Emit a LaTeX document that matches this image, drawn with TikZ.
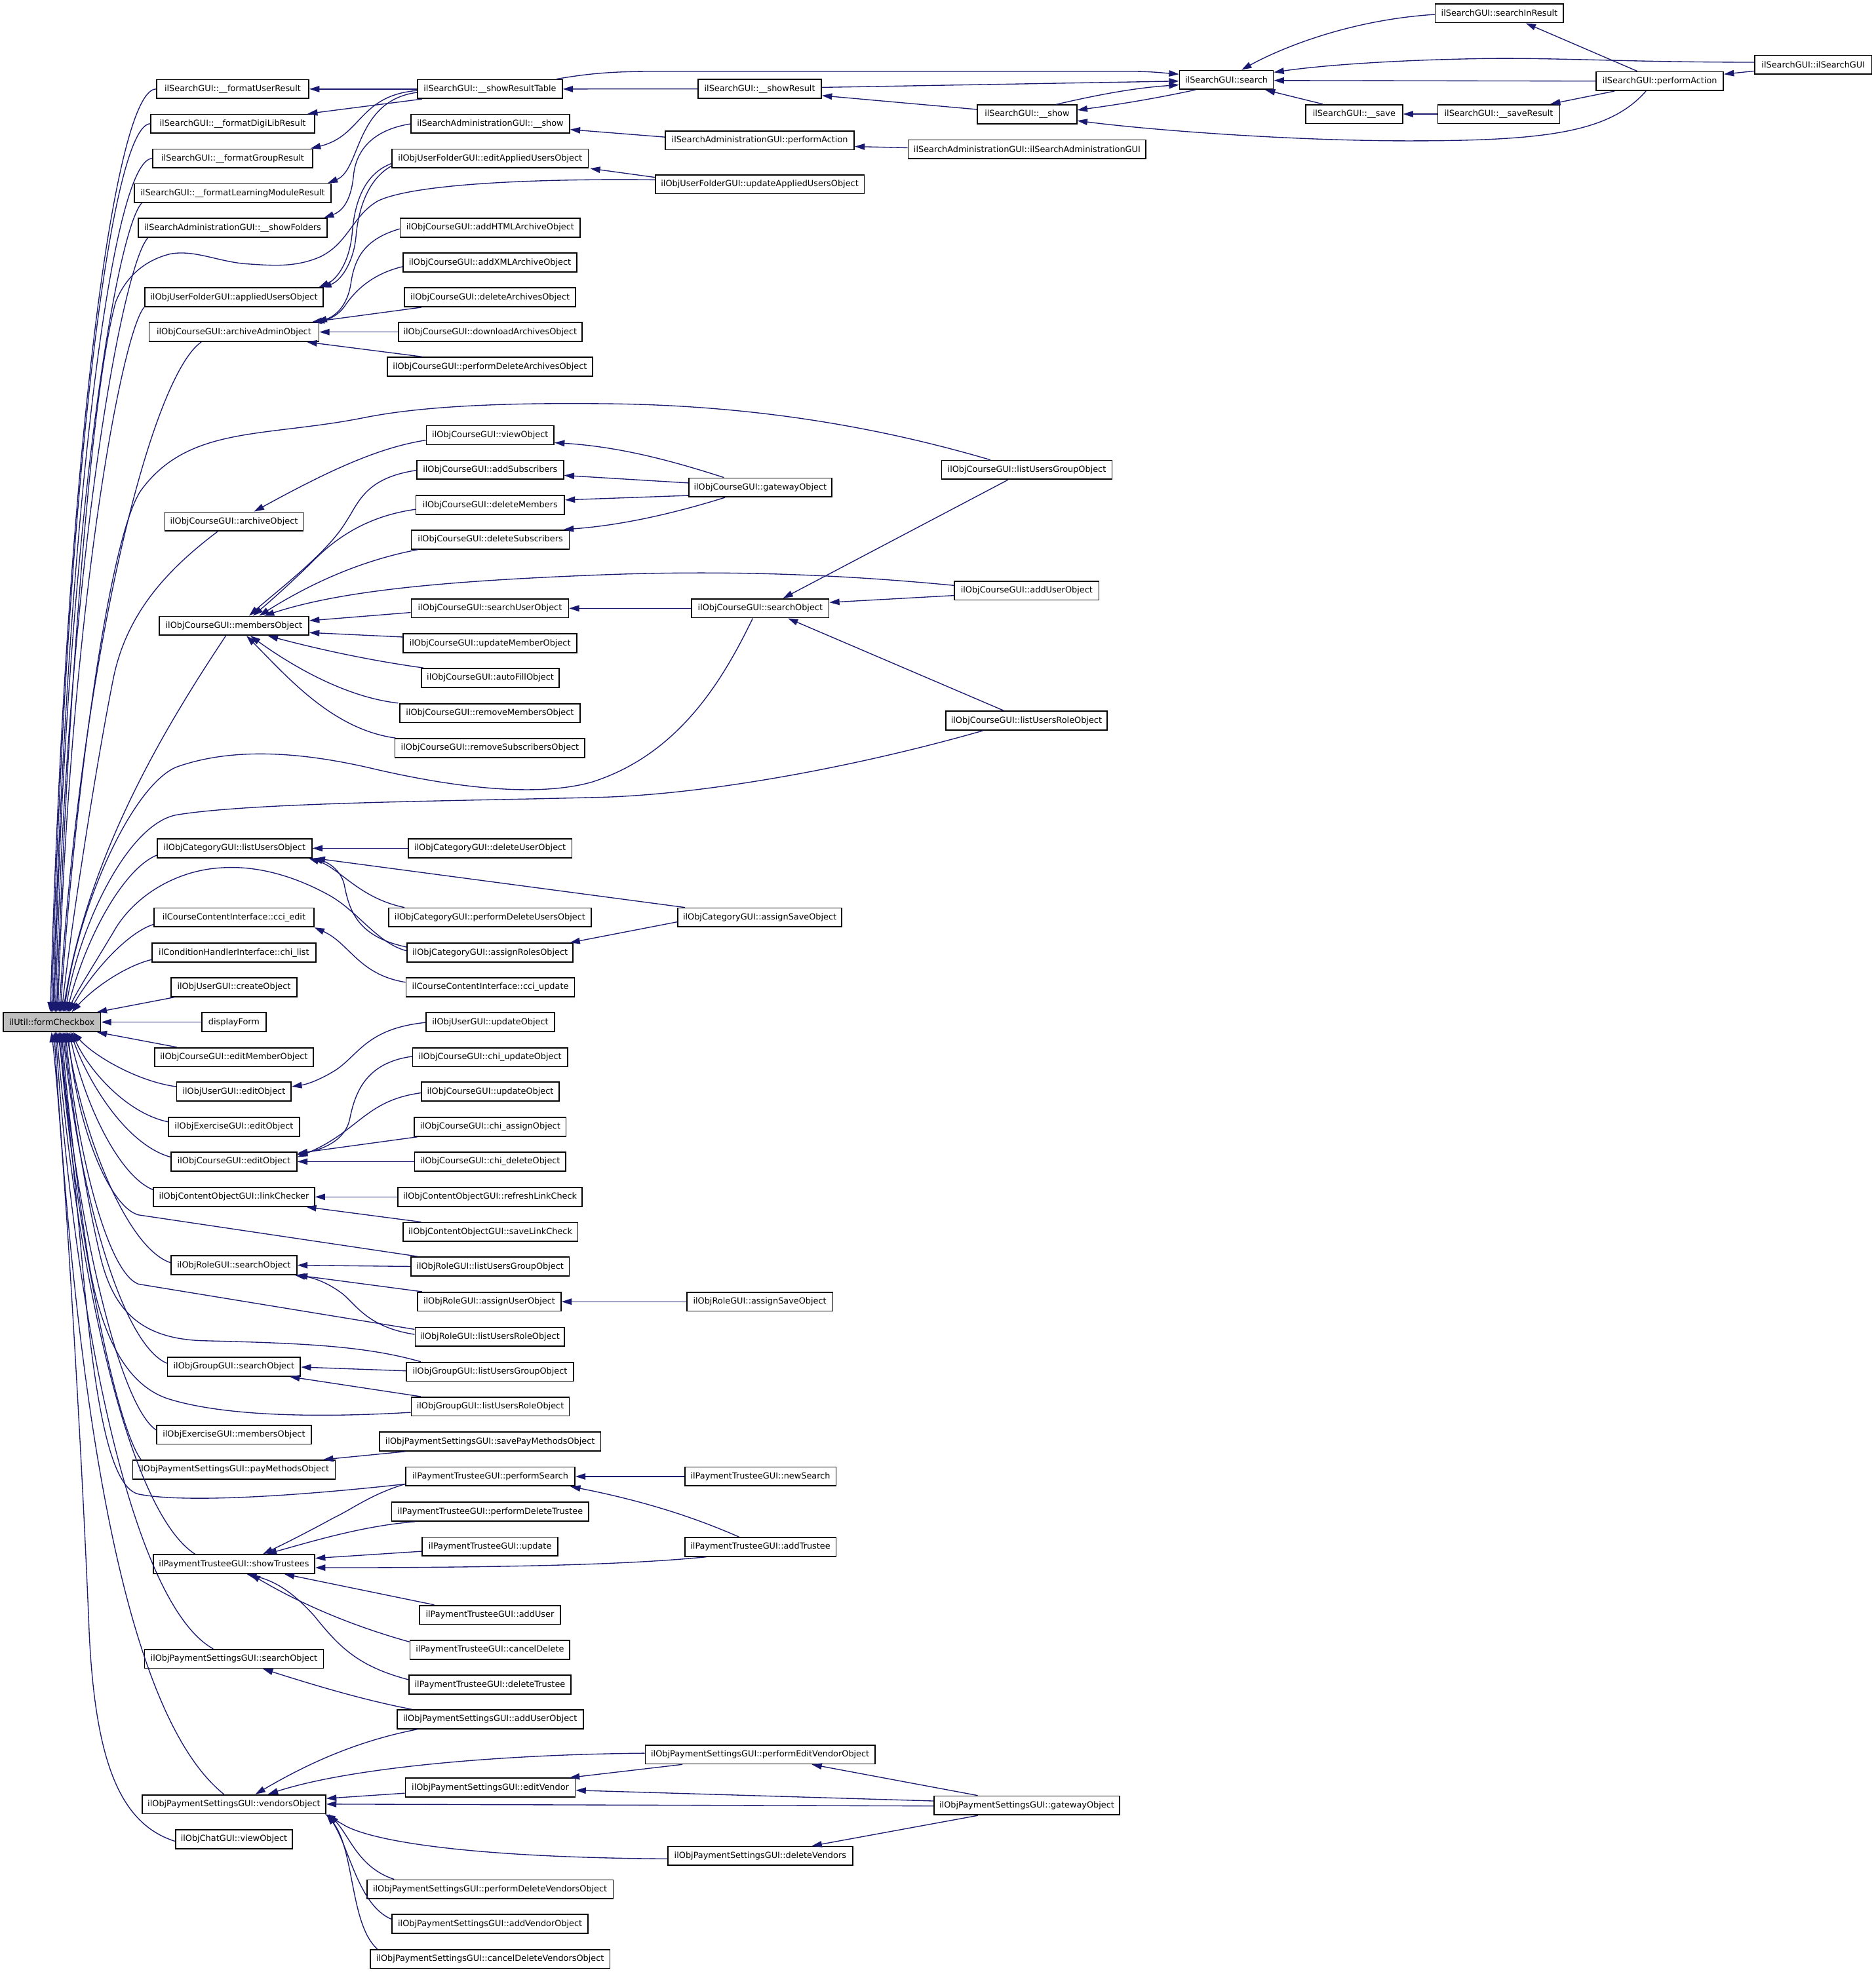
\documentclass[tikz,border=0pt]{standalone}
\usepackage{fontspec}
\setmainfont{DejaVu Sans}
\usetikzlibrary{arrows.meta}
\definecolor{edgec}{RGB}{25,25,112}
\definecolor{rootfill}{RGB}{191,191,191}
\tikzset{
  box/.style={draw=black, line width=0.9pt, fill=white, font=\fontsize{6.7}{8}\selectfont,
    inner xsep=3pt, inner ysep=0pt, minimum height=15pt, anchor=center},
  rootbox/.style={box, fill=rootfill},
  arr/.style={draw=edgec, line width=0.7pt, -{Triangle[length=8pt,width=5pt]}},
}
\newcommand\mynode[6][box]{\node[#1, minimum width=#5pt] (#2) at (#3,#4) {#6};}
\begin{document}
\begin{tikzpicture}[x=1pt,y=-1pt]
\fill[white] (0,0) rectangle (1491,1568);
\useasboundingbox (0,0) rectangle (1491,1568);

% ---------- nodes ----------
\mynode[rootbox]{fc}{41.3}{812.7}{77.4}{ilUtil::formCheckbox}
% level 1
\mynode{fur}{185}{70.8}{121}{ilSearchGUI::\_\_formatUserResult}
\mynode{fdl}{185}{98.4}{130}{ilSearchGUI::\_\_formatDigiLibResult}
\mynode{fgr}{185}{126}{127}{ilSearchGUI::\_\_formatGroupResult}
\mynode{flm}{185}{153.6}{156}{ilSearchGUI::\_\_formatLearningModuleResult}
\mynode{sfo}{185}{181.2}{150}{ilSearchAdministrationGUI::\_\_showFolders}
\mynode{aus}{186}{236.4}{142}{ilObjUserFolderGUI::appliedUsersObject}
\mynode{aao}{186}{264}{135}{ilObjCourseGUI::archiveAdminObject}
\mynode{aro}{186}{414.7}{110}{ilObjCourseGUI::archiveObject}
\mynode{mem}{186}{497.6}{119}{ilObjCourseGUI::membersObject}
\mynode{lus}{186.5}{674.5}{123}{ilObjCategoryGUI::listUsersObject}
\mynode{cce}{186}{729.5}{127}{ilCourseContentInterface::cci\_edit}
\mynode{chl}{186}{757.5}{130}{ilConditionHandlerInterface::chi\_list}
\mynode{uco}{186}{785}{100}{ilObjUserGUI::createObject}
\mynode{dfm}{186}{812.7}{51}{displayForm}
\mynode{emo}{186}{840.6}{126}{ilObjCourseGUI::editMemberObject}
\mynode{ueo}{186}{868}{91}{ilObjUserGUI::editObject}
\mynode{xeo}{186}{896}{104}{ilObjExerciseGUI::editObject}
\mynode{ceo}{186}{923.6}{100}{ilObjCourseGUI::editObject}
\mynode{lch}{186}{951.7}{128}{ilObjContentObjectGUI::linkChecker}
\mynode{rso}{186}{1006}{100}{ilObjRoleGUI::searchObject}
\mynode{gso}{186}{1086.7}{105.6}{ilObjGroupGUI::searchObject}
\mynode{xmo}{186}{1140.7}{123}{ilObjExerciseGUI::membersObject}
\mynode{pmo}{186}{1168.5}{161}{ilObjPaymentSettingsGUI::payMethodsObject}
\mynode{sht}{186}{1243.6}{128.4}{ilPaymentTrusteeGUI::showTrustees}
\mynode{pss}{186}{1319}{142.3}{ilObjPaymentSettingsGUI::searchObject}
\mynode{vob}{186}{1434.6}{146}{ilObjPaymentSettingsGUI::vendorsObject}
\mynode{cvo}{186}{1462.4}{93}{ilObjChatGUI::viewObject}
% level 2
\mynode{srt}{389.5}{70.8}{115}{ilSearchGUI::\_\_showResultTable}
\mynode{sas}{389.8}{98.4}{126}{ilSearchAdministrationGUI::\_\_show}
\mynode{eau}{389.7}{126}{156}{ilObjUserFolderGUI::editAppliedUsersObject}
\mynode{aha}{389.7}{181}{143}{ilObjCourseGUI::addHTMLArchiveObject}
\mynode{axa}{389.5}{208.8}{138}{ilObjCourseGUI::addXMLArchiveObject}
\mynode{dar}{389.6}{236.4}{136}{ilObjCourseGUI::deleteArchivesObject}
\mynode{dla}{389.7}{264}{146}{ilObjCourseGUI::downloadArchivesObject}
\mynode{pda}{389.5}{291.6}{163}{ilObjCourseGUI::performDeleteArchivesObject}
\mynode{cvw}{389.7}{346}{101.4}{ilObjCourseGUI::viewObject}
\mynode{cas}{389.7}{373.6}{116.6}{ilObjCourseGUI::addSubscribers}
\mynode{cdm}{389.7}{401.5}{118}{ilObjCourseGUI::deleteMembers}
\mynode{cds}{389.8}{429}{125.6}{ilObjCourseGUI::deleteSubscribers}
\mynode{csu}{389.5}{483.7}{125}{ilObjCourseGUI::searchUserObject}
\mynode{cum}{389.6}{511.5}{138}{ilObjCourseGUI::updateMemberObject}
\mynode{caf}{389.8}{539}{109.6}{ilObjCourseGUI::autoFillObject}
\mynode{crm}{389.5}{567}{143}{ilObjCourseGUI::removeMembersObject}
\mynode{crs}{389.5}{594.8}{151}{ilObjCourseGUI::removeSubscribersObject}
\mynode{dus}{389.6}{674.5}{130}{ilObjCategoryGUI::deleteUserObject}
\mynode{pdu}{389.5}{729.5}{161}{ilObjCategoryGUI::performDeleteUsersObject}
\mynode{asr}{389.6}{757.5}{132}{ilObjCategoryGUI::assignRolesObject}
\mynode{ccu}{389.8}{785}{134}{ilCourseContentInterface::cci\_update}
\mynode{uuo}{389.8}{812.7}{102}{ilObjUserGUI::updateObject}
\mynode{cuo}{389.6}{840.6}{123}{ilObjCourseGUI::chi\_updateObject}
\mynode{cup}{389.8}{868}{109.6}{ilObjCourseGUI::updateObject}
\mynode{cha}{389.7}{896}{120.6}{ilObjCourseGUI::chi\_assignObject}
\mynode{chd}{389.7}{923.6}{120.3}{ilObjCourseGUI::chi\_deleteObject}
\mynode{rlc}{389.6}{951.7}{146.4}{ilObjContentObjectGUI::refreshLinkCheck}
\mynode{slc}{389.8}{979.6}{139}{ilObjContentObjectGUI::saveLinkCheck}
\mynode{rlg}{389.6}{1007}{126}{ilObjRoleGUI::listUsersGroupObject}
\mynode{rau}{389}{1035}{114}{ilObjRoleGUI::assignUserObject}
\mynode{rlr}{389.4}{1063}{118.7}{ilObjRoleGUI::listUsersRoleObject}
\mynode{glg}{389.5}{1090.7}{133}{ilObjGroupGUI::listUsersGroupObject}
\mynode{glr}{389.8}{1118.4}{125.6}{ilObjGroupGUI::listUsersRoleObject}
\mynode{spm}{389.6}{1146.2}{176}{ilObjPaymentSettingsGUI::savePayMethodsObject}
\mynode{psr}{389.8}{1174}{134.4}{ilPaymentTrusteeGUI::performSearch}
\mynode{pdt}{389.7}{1202}{156.6}{ilPaymentTrusteeGUI::performDeleteTrustee}
\mynode{tup}{389.6}{1229.7}{108}{ilPaymentTrusteeGUI::update}
\mynode{tau}{389.5}{1284}{111.7}{ilPaymentTrusteeGUI::addUser}
\mynode{tcd}{389.5}{1311.8}{127}{ilPaymentTrusteeGUI::cancelDelete}
\mynode{tdt}{389.5}{1339.6}{129}{ilPaymentTrusteeGUI::deleteTrustee}
\mynode{pau}{389.6}{1367}{148}{ilObjPaymentSettingsGUI::addUserObject}
\mynode{pev}{389.8}{1421.4}{135}{ilObjPaymentSettingsGUI::editVendor}
\mynode{pdv}{389.6}{1502.2}{195.7}{ilObjPaymentSettingsGUI::performDeleteVendorsObject}
\mynode{pav}{389.6}{1529.8}{155.8}{ilObjPaymentSettingsGUI::addVendorObject}
\mynode{pcd}{389.6}{1557.6}{190.5}{ilObjPaymentSettingsGUI::cancelDeleteVendorsObject}
% level 3
\mynode{shr}{604}{70.7}{98}{ilSearchGUI::\_\_showResult}
\mynode{sap}{604}{111.6}{150}{ilSearchAdministrationGUI::performAction}
\mynode{uau}{604}{146.5}{166}{ilObjUserFolderGUI::updateAppliedUsersObject}
\mynode{cgw}{604.4}{387.6}{113.8}{ilObjCourseGUI::gatewayObject}
\mynode{cso}{604.4}{483.7}{109}{ilObjCourseGUI::searchObject}
\mynode{asv}{604}{729.5}{130}{ilObjCategoryGUI::assignSaveObject}
\mynode{ras}{604}{1035}{116}{ilObjRoleGUI::assignSaveObject}
\mynode{tns}{604.5}{1174}{120.2}{ilPaymentTrusteeGUI::newSearch}
\mynode{tat}{604.5}{1230}{120.2}{ilPaymentTrusteeGUI::addTrustee}
\mynode{pef}{604.3}{1395}{182.7}{ilObjPaymentSettingsGUI::performEditVendorObject}
\mynode{pdl}{604.4}{1475.7}{146.8}{ilObjPaymentSettingsGUI::deleteVendors}
% level 4
\mynode{shw}{816.5}{91}{79}{ilSearchGUI::\_\_show}
\mynode{sag}{816.5}{118.7}{189}{ilSearchAdministrationGUI::ilSearchAdministrationGUI}
\mynode{clg}{816.3}{373.6}{135.4}{ilObjCourseGUI::listUsersGroupObject}
\mynode{cau}{816.2}{469.6}{114.8}{ilObjCourseGUI::addUserObject}
\mynode{clr}{816}{573}{128}{ilObjCourseGUI::listUsersRoleObject}
\mynode{pgw}{816.3}{1435.6}{147.4}{ilObjPaymentSettingsGUI::gatewayObject}
% levels 5-7
\mynode{sea}{975}{63.5}{74.5}{ilSearchGUI::search}
\mynode{sav}{1076.5}{90.7}{77}{ilSearchGUI::\_\_save}
\mynode{sir}{1192}{10.5}{102}{ilSearchGUI::searchInResult}
\mynode{ssr}{1191.5}{90.7}{97}{ilSearchGUI::\_\_saveResult}
\mynode{spa}{1319.5}{64.5}{101}{ilSearchGUI::performAction}
\mynode{sgi}{1441.5}{51.5}{93}{ilSearchGUI::ilSearchGUI}

% ---------- search cluster ----------
\draw[arr] (shr.west) -- (srt.east);
\draw[arr] ([xshift=-5pt]srt.north east) .. controls (470,58) and (490,56.8) .. (520,56.8) -- (900,56.8) .. controls (915,56.8) and (925,58) .. (sea.west |- 0,59);
\draw[arr] (shr.east |- 0,69.5) -- (sea.west |- 0,64.5);
\draw[arr] ([xshift=23pt]shw.north) .. controls (870,76) and (900,70) .. (sea.west |- 0,67.5);
\draw[arr] ([xshift=13pt]sea.south west) .. controls (920,78) and (890,83) .. (shw.east |- 0,87.5);
\draw[arr] (shw.west |- 0,87) -- (shr.east |- 0,76);
\draw[arr] ([xshift=-11pt]spa.south) .. controls (1280,105) and (1230,112) .. (1120,112) .. controls (1030,112) and (920,104) .. (shw.east |- 0,96);
\draw[arr] (sir.west |- 0,11.5) .. controls (1070,16) and (1015,40) .. ([xshift=12pt]sea.north);
\draw[arr] ([xshift=-18pt]spa.north) -- ([xshift=21pt]sir.south);
\draw[arr] (sgi.west |- 0,49.5) .. controls (1300,49.5) and (1240,46) .. (1185,46.5) .. controls (1110,47.5) and (1050,52) .. (sea.east |- 0,57.5);
\draw[arr] (spa.west |- 0,64.5) -- (sea.east |- 0,64);
\draw[arr] ([xshift=-25pt]sav.north) -- ([xshift=-7pt]sea.south east);
\draw[arr] (ssr.west) -- (sav.east);
\draw[arr] ([xshift=-36pt]spa.south) -- ([xshift=-8pt]ssr.north east);
\draw[arr] (sgi.west |- 0,56.5) -- (spa.east |- 0,59);
% search admin
\draw[arr] (sap.west |- 0,109) -- (sas.east |- 0,103);
\draw[arr] (sag.west |- 0,117.5) -- (sap.east |- 0,116.5);
\draw[arr] (sas.west |- 0,98.5) .. controls (298,103) and (283,118) .. (281,140) .. controls (279,160) and (272,168) .. ([xshift=-3pt]sfo.north east);
% showResultTable callees
\draw[arr] (srt.west) -- (fur.east);
\draw[arr] ([xshift=4pt]srt.south west) -- ([xshift=-6pt]fdl.north east);
\draw[arr] (srt.west |- 0,72) .. controls (285,76) and (288,108) .. ([xshift=-2pt]fgr.north east);
\draw[arr] (srt.west |- 0,73.5) .. controls (282,80) and (287,135) .. ([xshift=-3pt]flm.north east);
% user folder
\draw[arr] (eau.west |- 0,130) .. controls (290,138) and (282,160) .. (280,185) .. controls (278,208) and (268,222) .. ([xshift=-4pt]aus.north east);
\draw[arr] (eau.west |- 0,132) .. controls (293,142) and (285,165) .. (283,188) .. controls (281,210) and (270,224) .. ([xshift=-2pt]aus.north east);
\draw[arr] (uau.west |- 0,141) -- ([xshift=1pt]eau.south east);
% archive admin
\draw[arr] (aha.west |- 0,182) .. controls (290,190) and (282,205) .. (279,225) .. controls (276,245) and (265,252) .. ([xshift=-2pt]aao.north east);
\draw[arr] (axa.west |- 0,212) .. controls (295,218) and (282,232) .. (275,242) .. controls (270,250) and (262,254) .. ([xshift=-4pt]aao.north east);
\draw[arr] ([xshift=14pt]dar.south west) -- ([xshift=-6pt]aao.north east);
\draw[arr] (dla.west) -- (aao.east);
\draw[arr] ([xshift=28pt]pda.north west) -- ([xshift=-10pt]aao.south east);

% ---------- course ----------
\draw[arr] (cvw.west |- 0,350) .. controls (300,356) and (260,375) .. ([xshift=16pt]aro.north);
\draw[arr] ([xshift=-29pt]cgw.north) .. controls (530,365) and (490,355) .. (cvw.east |- 0,352);
\draw[arr] (cgw.west |- 0,384) -- (cas.east |- 0,378);
\draw[arr] (cgw.west |- 0,394) -- (cdm.east |- 0,397.5);
\draw[arr] ([xshift=-28pt]cgw.south) .. controls (530,410) and (490,418) .. ([xshift=-5pt]cds.north east);
\draw[arr] (cas.west |- 0,374) .. controls (290,380) and (285,400) .. (275,415) .. controls (260,440) and (220,470) .. ([xshift=12pt]mem.north);
\draw[arr] (cdm.west |- 0,405) .. controls (295,410) and (270,425) .. (250,445) .. controls (235,460) and (215,478) .. ([xshift=15pt]mem.north);
\draw[arr] ([xshift=6pt]cds.south west) .. controls (290,445) and (250,462) .. ([xshift=20pt]mem.north);
\draw[arr] (cau.west |- 0,465.5) .. controls (650,455) and (560,454) .. (480,457) .. controls (350,462) and (270,470) .. ([xshift=24pt]mem.north);
\draw[arr] (csu.west |- 0,487) -- (mem.east |- 0,493.5);
\draw[arr] (cum.west |- 0,506.5) -- (mem.east |- 0,503);
\draw[arr] ([xshift=2pt]caf.north west) .. controls (300,526) and (260,518) .. ([xshift=27pt]mem.south);
\draw[arr] ([xshift=-1pt]crm.north west) .. controls (280,555) and (240,535) .. ([xshift=13pt]mem.south);
\draw[arr] ([xshift=1pt]crs.north west) .. controls (265,580) and (230,540) .. ([xshift=10pt]mem.south);
\draw[arr] (cso.west) -- (csu.east);
\draw[arr] ([xshift=-15pt]clg.south) -- ([xshift=18pt]cso.north);
\draw[arr] (cau.west |- 0,473.5) -- (cso.east |- 0,479);
\draw[arr] ([xshift=-18pt]clr.north) -- ([xshift=22pt]cso.south);

% ---------- category ----------
\draw[arr] (dus.west) -- (lus.east);
\draw[arr] ([xshift=13pt]pdu.north west) .. controls (285,714) and (270,690) .. ([xshift=-3pt]lus.south east);
\draw[arr] (asr.west |- 0,753) .. controls (285,745) and (278,725) .. (274,705) .. controls (272,693) and (262,686) .. (lus.south east);
\draw[arr] ([xshift=6pt]asv.north west) -- ([xshift=2pt]lus.south east);
\draw[arr] (asv.west |- 0,733) -- ([xshift=-3pt]asr.north east);
\draw[arr] (ccu.west |- 0,781) .. controls (285,775) and (278,750) .. (cce.south east);

% ---------- edit objects ----------
\draw[arr] (uuo.west |- 0,813) .. controls (290,818) and (285,840) .. (265,852) .. controls (255,858) and (245,862) .. (ueo.east |- 0,864);
\draw[arr] (cuo.west |- 0,840) .. controls (290,845) and (282,870) .. (278,890) .. controls (274,908) and (255,914) .. (ceo.east |- 0,918);
\draw[arr] (cup.west |- 0,869) .. controls (290,875) and (285,900) .. (ceo.east |- 0,920);
\draw[arr] ([xshift=3pt]cha.south west) -- (ceo.east |- 0,917);
\draw[arr] (chd.west) -- (ceo.east);
\draw[arr] (rlc.west) -- (lch.east);
\draw[arr] ([xshift=15pt]slc.north west) -- ([xshift=-7pt]lch.south east);

% ---------- role / group ----------
\draw[arr] (rlg.west) -- (rso.east);
\draw[arr] ([xshift=4pt]rau.north west) -- (rso.south east);
\draw[arr] (rlr.west |- 0,1061) .. controls (290,1055) and (282,1035) .. (270,1027) .. controls (260,1020) and (250,1016) .. ([xshift=-2pt]rso.south east);
\draw[arr] (ras.west) -- (rau.east);
\draw[arr] (glg.west |- 0,1090) -- (gso.east |- 0,1087);
\draw[arr] ([xshift=8pt]glr.north west) -- ([xshift=-9pt]gso.south east);

% ---------- payment ----------
\draw[arr] ([xshift=21pt]spm.south west) -- ([xshift=-10pt]pmo.north east);
\draw[arr] (tns.west) -- (psr.east);
\draw[arr] ([xshift=-17pt]tat.north) .. controls (560,1210) and (520,1195) .. ([xshift=-4pt]psr.south east);
\draw[arr] (psr.west |- 0,1180) .. controls (295,1188) and (280,1200) .. (265,1207) .. controls (245,1218) and (225,1228) .. ([xshift=23pt]sht.north);
\draw[arr] ([xshift=19pt]pdt.south west) .. controls (290,1213) and (250,1225) .. ([xshift=26pt]sht.north);
\draw[arr] (tup.west |- 0,1233.5) -- (sht.east |- 0,1239);
\draw[arr] ([xshift=-43pt]tat.south) .. controls (520,1242) and (450,1246.5) .. (sht.east |- 0,1246.5);
\draw[arr] ([xshift=12pt]tau.north west) -- ([xshift=40pt]sht.south);
\draw[arr] (tcd.west |- 0,1305.5) .. controls (270,1290) and (230,1270) .. ([xshift=13pt]sht.south);
\draw[arr] (tdt.west |- 0,1335.5) .. controls (285,1325) and (270,1310) .. (250,1285) .. controls (232,1265) and (218,1257) .. ([xshift=10pt]sht.south);
\draw[arr] ([xshift=12pt]pau.north west) .. controls (290,1352) and (250,1340) .. ([xshift=23pt]pss.south);
\draw[arr] ([xshift=17pt]pau.south west) .. controls (280,1385) and (240,1405) .. ([xshift=17pt]vob.north);
\draw[arr] (pef.west |- 0,1394) .. controls (400,1395) and (280,1405) .. ([xshift=27pt]vob.north);
\draw[arr] ([xshift=30pt]pef.south west) -- ([xshift=-5pt]pev.north east);
\draw[arr] (pev.west |- 0,1425.8) -- (vob.east |- 0,1430);
\draw[arr] (pgw.west |- 0,1436) -- (vob.east |- 0,1434.5);
\draw[arr] (pgw.west |- 0,1432) -- (pev.east |- 0,1423.5);
\draw[arr] ([xshift=-39pt]pgw.north) -- ([xshift=41pt]pef.south);
\draw[arr] ([xshift=-39pt]pgw.south) -- ([xshift=41pt]pdl.north);
\draw[arr] (pdl.west |- 0,1478) .. controls (380,1477) and (300,1465) .. (275,1452) .. controls (268,1448) and (263,1445) .. ([xshift=-1pt]vob.south east);
\draw[arr] ([xshift=22pt]pdv.north west) .. controls (285,1485) and (278,1460) .. ([xshift=2pt]vob.south east);
\draw[arr] (pav.west |- 0,1526) .. controls (285,1515) and (278,1470) .. ([xshift=1pt]vob.south east);
\draw[arr] ([xshift=6pt]pcd.north west) .. controls (278,1530) and (282,1470) .. (vob.south east);

% ---------- edges into formCheckbox (from above) ----------
\draw[arr] (fur.west) .. controls (90.7,70.8) and (52.7,364.5) .. (fc.north -| 40,0);
\draw[arr] (fdl.west) .. controls (88.4,98.4) and (52.9,381) .. (fc.north -| 41,0);
\draw[arr] (fgr.west) .. controls (89.7,126) and (53.9,397.6) .. (fc.north -| 42,0);
\draw[arr] ([xshift=6pt]flm.south west) .. controls (92,185) and (53,420) .. (fc.north -| 43,0);
\draw[arr] ([xshift=8pt]sfo.south west) .. controls (98,210) and (54,440) .. (fc.north -| 44,0);
\draw[arr] (uau.west |- 0,143) .. controls (440,142) and (330,145) .. (300,160) .. controls (280,172) and (277,193) .. (255,204) .. controls (235,213) and (215,211) .. (199,210) .. controls (175,209) and (155,198) .. (135,202) .. controls (115,207) and (100,220) .. (92,240) .. controls (70,320) and (52,600) .. (fc.north -| 45,0);
\draw[arr] (aus.south west) .. controls (97,265) and (56,480) .. (fc.north -| 46,0);
\draw[arr] ([xshift=-26pt]aao.south) .. controls (120,300) and (65,520) .. (fc.north -| 47,0);
\draw[arr] ([xshift=-29pt]clg.north) .. controls (700,340) and (600,322) .. (480,321) .. controls (390,320) and (330,324) .. (290,332) .. controls (210,348) and (150,338) .. (112,390) .. controls (85,430) and (58,650) .. (fc.north -| 48,0);
\draw[arr] ([xshift=-13pt]aro.south) .. controls (130,455) and (100,490) .. (90,540) .. controls (76,610) and (56,740) .. (fc.north -| 49,0);
\draw[arr] ([xshift=-6.5pt]mem.south) .. controls (130,580) and (70,680) .. (fc.north -| 50,0);
\draw[arr] ([xshift=-6pt]cso.south) .. controls (575,540) and (540,600) .. (470,622) .. controls (430,633) and (370,628) .. (300,612) .. controls (250,600) and (190,592) .. (140,610) .. controls (105,625) and (62,720) .. (fc.north -| 51,0);
\draw[arr] ([xshift=-34.5pt]clr.south) .. controls (680,610) and (560,632) .. (475,634) .. controls (360,637) and (200,638) .. (140,648) .. controls (100,656) and (62,740) .. (fc.north -| 52,0);
\draw[arr] (lus.west |- 0,680) .. controls (100,690) and (70,740) .. (fc.north -| 53,0);
\draw[arr] (asr.west |- 0,756) .. controls (300,750) and (285,725) .. (262,712) .. controls (235,697) and (205,688) .. (176,690) .. controls (140,692) and (108,712) .. (92,738) .. controls (76,765) and (60,790) .. (fc.north -| 54,0);
\draw[arr] (cce.west |- 0,735) .. controls (100,742) and (72,775) .. (fc.north -| 55,0);
\draw[arr] (chl.west |- 0,763) .. controls (100,768) and (75,785) .. (fc.north -| 57,0);
\draw[arr] ([xshift=3pt]uco.south west) -- (fc.north -| 77,0);
\draw[arr] (dfm.west) -- (fc.east);
% ---------- edges into formCheckbox (from below) ----------
\draw[arr] ([xshift=18pt]emo.north west) -- (fc.south -| 77,0);
\draw[arr] (ueo.west |- 0,864) .. controls (110,860) and (75,840) .. (fc.south -| 58,0);
\draw[arr] (xeo.west |- 0,892) .. controls (100,885) and (70,850) .. (fc.south -| 57,0);
\draw[arr] (ceo.west |- 0,920) .. controls (100,910) and (70,860) .. (fc.south -| 56,0);
\draw[arr] (lch.west |- 0,946) .. controls (95,935) and (68,880) .. (fc.south -| 55,0);
\draw[arr] ([xshift=6pt]rlg.north west) -- (110,966) .. controls (88,960) and (62,900) .. (fc.south -| 54,0);
\draw[arr] (rso.west |- 0,1004) .. controls (100,992) and (65,900) .. (fc.south -| 53,0);
\draw[arr] (rlr.west |- 0,1057) -- (110,1021) .. controls (86,1012) and (62,920) .. (fc.south -| 52,0);
\draw[arr] ([xshift=12pt]glg.north west) .. controls (290,1070) and (240,1068) .. (160,1066) .. controls (110,1064) and (90,1040) .. (80,1000) .. controls (66,940) and (56,870) .. (fc.south -| 51,0);
\draw[arr] (gso.west |- 0,1084) .. controls (95,1068) and (62,940) .. (fc.south -| 50,0);
\draw[arr] (glr.west |- 0,1123) .. controls (260,1127) and (180,1127) .. (133,1112) .. controls (95,1099) and (78,1050) .. (70,1000) .. controls (60,935) and (53,870) .. (fc.south -| 49,0);
\draw[arr] (xmo.west |- 0,1137) .. controls (92,1115) and (58,950) .. (fc.south -| 48,0);
\draw[arr] ([xshift=7pt]pmo.north west) .. controls (90,1130) and (58,960) .. (fc.south -| 47,0);
\draw[arr] (psr.west |- 0,1180) .. controls (250,1188) and (150,1196) .. (110,1188) .. controls (85,1182) and (74,1100) .. (65,1000) .. controls (56,900) and (50,850) .. (fc.south -| 46,0);
\draw[arr] ([xshift=-31pt]sht.north) .. controls (100,1200) and (60,1000) .. (fc.south -| 45,0);
\draw[arr] ([xshift=-16.5pt]pss.north) .. controls (105,1275) and (60,1050) .. (fc.south -| 44,0);
\draw[arr] ([xshift=-8pt]vob.north) .. controls (95,1360) and (60,1100) .. (fc.south -| 43,0);
\draw[arr] (cvo.west |- 0,1464) .. controls (95,1450) and (76,1400) .. (71,1300) .. controls (65,1150) and (50,900) .. (fc.south -| 41,0);
\end{tikzpicture}
\end{document}
